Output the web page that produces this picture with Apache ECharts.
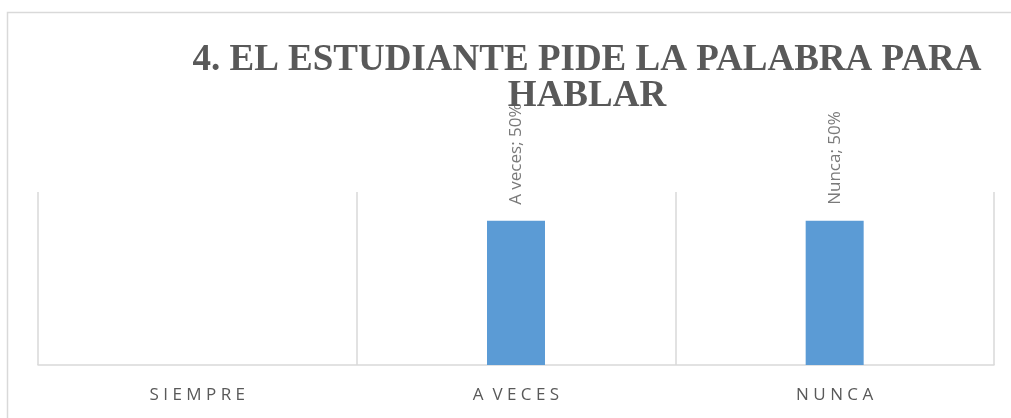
<!DOCTYPE html>
<html>
<head>
<meta charset="utf-8">
<script src="https://cdn.jsdelivr.net/npm/echarts@6/dist/echarts.min.js"></script>
<style>
html,body{margin:0;padding:0;background:#fff;overflow:hidden;}
#chart{width:1011px;height:418px;}
</style>
</head>
<body>
<div id="chart"></div>
<script>
const titleText = '4. EL ESTUDIANTE PIDE LA PALABRA PARA\nHABLAR';
const categories = ['SIEMPRE', 'A VECES', 'NUNCA'];
const labelNames = ['Siempre', 'A veces', 'Nunca'];
const values = [null, 0.5, 0.5];

function spaced(s) {
  return s.split(' ').map(w => w.split('').join(' ')).join('  ');
}

const chart = echarts.init(document.getElementById('chart'));
chart.setOption({
  animation: false,
  backgroundColor: '#ffffff',
  title: {
    text: titleText,
    left: 582,
    top: 37,
    textAlign: 'center',
    textStyle: {
      fontFamily: '"Liberation Serif", "Times New Roman", serif',
      fontWeight: 'bold',
      fontSize: 37,
      lineHeight: 36,
      color: '#595959'
    }
  },
  graphic: [{
    type: 'polyline',
    shape: { points: [[7.5, 418], [7.5, 12.5], [1011, 12.5]] },
    style: { fill: null, stroke: '#d9d9d9', lineWidth: 1.5 },
    silent: true
  }],
  grid: { left: 38, right: 17, top: 192, bottom: 53 },
  xAxis: {
    type: 'category',
    data: categories,
    axisTick: { show: false },
    axisLine: { lineStyle: { color: '#d9d9d9', width: 1.5 } },
    splitLine: { show: true, lineStyle: { color: '#d9d9d9', width: 1.5 } },
    axisLabel: {
      margin: 22,
      fontFamily: '"Open Sans", sans-serif',
      fontSize: 17,
      color: '#595959',
      formatter: v => spaced(v)
    }
  },
  yAxis: {
    type: 'value',
    min: 0,
    max: 0.6,
    show: false,
    splitLine: { show: false }
  },
  series: [{
    type: 'bar',
    data: values,
    barWidth: '18.2%',
    itemStyle: { color: '#5b9bd5' },
    label: {
      show: true,
      position: 'top',
      rotate: 90,
      distance: 16,
      align: 'left',
      verticalAlign: 'middle',
      fontFamily: '"Open Sans", sans-serif',
      fontSize: 17,
      color: '#7a7a7a',
      formatter: p => labelNames[p.dataIndex] + '; ' + Math.round(p.value * 100) + '%'
    }
  }]
});
</script>
</body>
</html>
